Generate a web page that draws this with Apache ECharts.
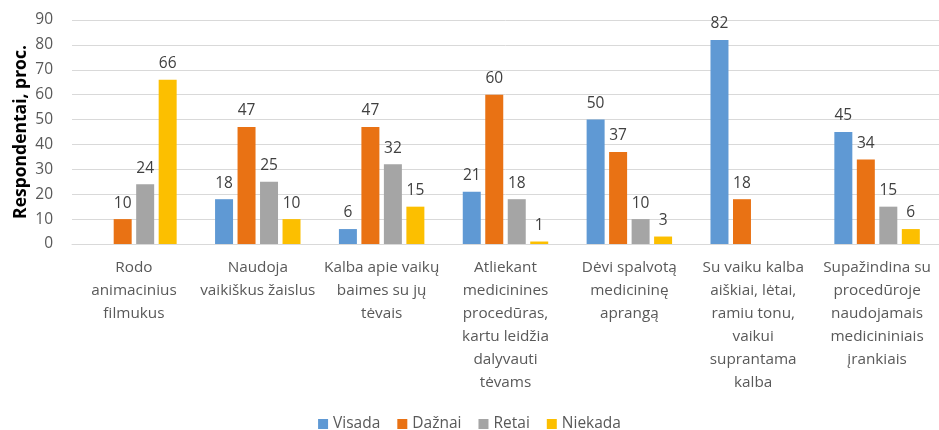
<!DOCTYPE html>
<html>
<head>
<meta charset="utf-8">
<script src="https://cdn.jsdelivr.net/npm/echarts@6/dist/echarts.min.js"></script>
<style>
    html, body { margin: 0; padding: 0; background: #fff; }
    #chart { width: 939px; height: 430px; }
</style>
</head>
<body>
<div id="chart"></div>
<script>
var categories = [
    'Rodo\nanimacinius\nfilmukus',
    'Naudoja\nvaikiškus žaislus',
    'Kalba apie vaikų\nbaimes su jų\ntėvais',
    'Atliekant\nmedicinines\nprocedūras,\nkartu leidžia\ndalyvauti\ntėvams',
    'Dėvi spalvotą\nmedicininę\naprangą',
    'Su vaiku kalba\naiškiai, lėtai,\nramiu tonu,\nvaikui\nsuprantama\nkalba',
    'Supažindina su\nprocedūroje\nnaudojamais\nmedicininiais\nįrankiais'
];
var visada = [null, 18, 6, 21, 50, 82, 45];
var daznai = [10, 47, 47, 60, 37, 18, 34];
var retai = [24, 25, 32, 18, 10, null, 15];
var niekada = [66, 10, 15, 1, 3, null, 6];

var fontFamily = '"Open Sans", "Noto Sans", sans-serif';

(function () {
    'use strict';
    var myChart = echarts.init(document.getElementById('chart'));

    function makeSeries(name, data, color) {
        return {
            name: name,
            type: 'bar',
            data: data,
            barGap: '25%',
            barCategoryGap: '31%',
            itemStyle: { color: color },
            label: {
                show: true,
                position: 'top',
                distance: 8,
                fontFamily: fontFamily,
                fontSize: 15.5,
                color: '#404040'
            }
        };
    }

    var option = {
        animation: false,
        textStyle: { fontFamily: fontFamily },
        grid: {
            left: 72,
            right: 0,
            top: 20,
            bottom: 186,
            outerBoundsMode: 'none'
        },
        legend: {
            top: 411,
            left: 'center',
            itemWidth: 10,
            itemHeight: 10,
            itemGap: 17,
            itemTextGap: 4,
            icon: 'rect',
            textStyle: {
                fontFamily: fontFamily,
                fontSize: 15.5,
                color: '#595959'
            },
            data: ['Visada', 'Dažnai', 'Retai', 'Niekada']
        },
        xAxis: {
            type: 'category',
            data: categories,
            axisLine: { lineStyle: { color: '#d9d9d9' } },
            axisTick: { show: false },
            axisLabel: {
                interval: 0,
                margin: 12,
                fontFamily: fontFamily,
                fontSize: 15.3,
                lineHeight: 23,
                color: '#595959'
            }
        },
        yAxis: {
            type: 'value',
            min: 0,
            max: 90,
            interval: 10,
            name: 'Respondentai, proc.',
            nameLocation: 'middle',
            nameGap: 42,
            nameMoveOverlap: false,
            nameTextStyle: {
                fontFamily: fontFamily,
                fontSize: 17.5,
                fontWeight: 'bold',
                color: '#000'
            },
            axisLine: { show: false },
            axisTick: { show: false },
            axisLabel: {
                margin: 19,
                fontFamily: fontFamily,
                fontSize: 15.5,
                color: '#595959'
            },
            splitLine: { lineStyle: { color: '#d9d9d9' } }
        },
        series: [
            makeSeries('Visada', visada, '#5f99d4'),
            makeSeries('Dažnai', daznai, '#e97214'),
            makeSeries('Retai', retai, '#a5a5a5'),
            makeSeries('Niekada', niekada, '#fcbf00')
        ]
    };
    myChart.setOption(option);
    window.addEventListener('resize', function () {
        myChart.resize();
    });
})();
</script>
</body>
</html>
